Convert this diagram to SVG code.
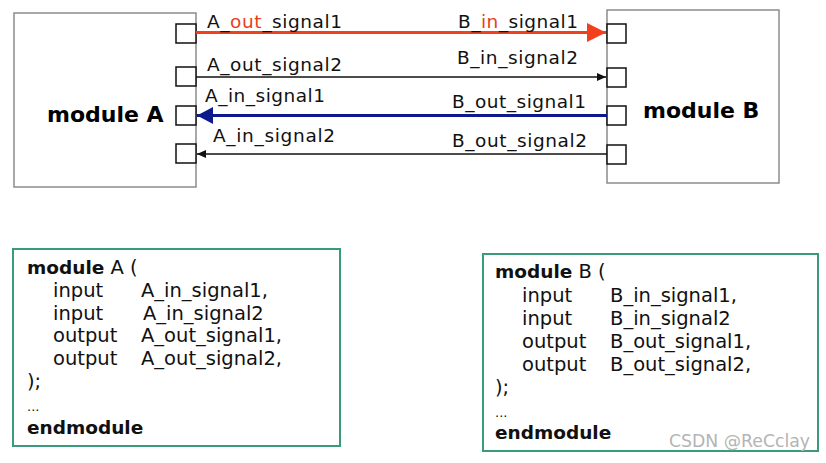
<svg xmlns="http://www.w3.org/2000/svg" width="826" height="463" viewBox="0 0 826 463">
<style>
.mod{fill:#fff;stroke:#8c8c8c;stroke-width:1.5}
.port{fill:#fff;stroke:#111;stroke-width:1.5}
.lbl{font-family:"DejaVu Sans",Verdana,sans-serif;font-size:18.5px;fill:#111}
.title{font-family:"DejaVu Sans",Verdana,sans-serif;font-size:22px;font-weight:bold;fill:#000}
.code{font-family:"DejaVu Sans",Verdana,sans-serif;font-size:19.5px;fill:#111}
.kw{font-weight:bold;font-size:18.5px}
.hl{fill:#e8401c}
.box{fill:#fff;stroke:#3a9a7c;stroke-width:2}
</style>
<defs>
<marker id="redHead" markerUnits="userSpaceOnUse" markerWidth="20" markerHeight="20" refX="19" refY="9.5" orient="auto"><path d="M0,0 L19,9.5 L0,19 z" fill="#f2401c"/></marker>
<marker id="blueHead" markerUnits="userSpaceOnUse" markerWidth="17" markerHeight="18" refX="16" refY="8.5" orient="auto"><path d="M0,0 L16,8.5 L0,17 z" fill="#0c1a8e"/></marker>
<marker id="blackHead" markerUnits="userSpaceOnUse" markerWidth="10" markerHeight="9" refX="9" refY="4" orient="auto"><path d="M0,0 L9,4 L0,8 z" fill="#111"/></marker>
</defs>
<rect width="826" height="463" fill="#fff"/>
<g id="moduleA">
<rect class="mod" x="14" y="13" width="182" height="174"/>
<text class="title" x="47" y="122">module A</text>
<rect class="port" x="176" y="24" width="20" height="19"/>
<rect class="port" x="176" y="67" width="20" height="19"/>
<rect class="port" x="176" y="106" width="20" height="19"/>
<rect class="port" x="176" y="144" width="20" height="19"/>
</g>
<g id="moduleB">
<rect class="mod" x="607" y="10" width="172" height="173"/>
<text class="title" x="643" y="118">module B</text>
<rect class="port" x="607" y="24" width="19" height="19"/>
<rect class="port" x="607" y="68" width="19" height="19"/>
<rect class="port" x="607" y="106" width="19" height="19"/>
<rect class="port" x="607" y="145" width="19" height="19"/>
</g>
<g id="connectors">
<line x1="196" y1="32.5" x2="606" y2="32.5" stroke="#f2401c" stroke-width="3" marker-end="url(#redHead)"/>
<line x1="196" y1="77" x2="606" y2="77" stroke="#111" stroke-width="1.5" marker-end="url(#blackHead)"/>
<line x1="607" y1="115.5" x2="197" y2="115.5" stroke="#0c1a8e" stroke-width="3" marker-end="url(#blueHead)"/>
<line x1="607" y1="154" x2="197" y2="154" stroke="#111" stroke-width="1.5" marker-end="url(#blackHead)"/>
<text class="lbl" x="207" y="28" textLength="135">A_<tspan class="hl">out</tspan>_signal1</text>
<text class="lbl" x="207" y="71" textLength="135">A_out_signal2</text>
<text class="lbl" x="205" y="102" textLength="120">A_in_signal1</text>
<text class="lbl" x="213" y="142" textLength="122">A_in_signal2</text>
<text class="lbl" x="458" y="28" textLength="120">B_<tspan class="hl">in</tspan>_signal1</text>
<text class="lbl" x="457" y="64" textLength="121">B_in_signal2</text>
<text class="lbl" x="452" y="108" textLength="134">B_out_signal1</text>
<text class="lbl" x="452" y="147" textLength="135">B_out_signal2</text>
</g>
<g id="codeA">
<rect class="box" x="13" y="249" width="327" height="197"/>
<text class="code" x="27" y="274"><tspan class="kw">module</tspan> A (</text>
<text class="code" x="53" y="297">input</text><text class="code" x="141" y="297">A_in_signal1,</text>
<text class="code" x="53" y="320">input</text><text class="code" x="143" y="320">A_in_signal2</text>
<text class="code" x="53" y="342">output</text><text class="code" x="141" y="342">A_out_signal1,</text>
<text class="code" x="53" y="365">output</text><text class="code" x="141" y="365">A_out_signal2,</text>
<text class="code" x="27" y="388">);</text>
<text class="code" x="27" y="411" style="font-size:13px">...</text>
<text class="code kw" x="27" y="434">endmodule</text>
</g>
<g id="codeB">
<rect class="box" x="483" y="254" width="335" height="197"/>
<text class="code" x="495" y="278"><tspan class="kw">module</tspan> B (</text>
<text class="code" x="522" y="302">input</text><text class="code" x="610" y="302">B_in_signal1,</text>
<text class="code" x="522" y="325">input</text><text class="code" x="610" y="325">B_in_signal2</text>
<text class="code" x="522" y="348">output</text><text class="code" x="610" y="348">B_out_signal1,</text>
<text class="code" x="522" y="371">output</text><text class="code" x="610" y="371">B_out_signal2,</text>
<text class="code" x="495" y="394">);</text>
<text class="code" x="495" y="417" style="font-size:13px">...</text>
<text class="code kw" x="495" y="439">endmodule</text>
</g>
<text x="669" y="447" font-family="'DejaVu Sans',sans-serif" font-size="17.3" fill="#b4b4b4">CSDN @ReCclay</text>
</svg>
